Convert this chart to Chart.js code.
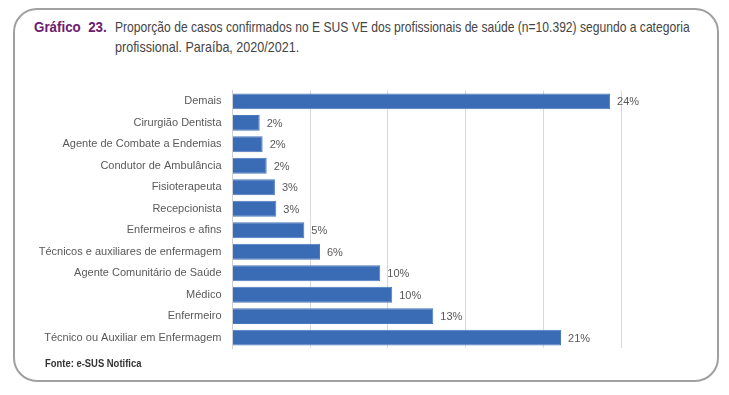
<!DOCTYPE html>
<html><head><meta charset="utf-8">
<script src="https://cdn.jsdelivr.net/npm/chart.js@4"></script>
<style>
html,body{margin:0;padding:0;background:#fff;width:729px;height:395px;overflow:hidden;}
#box{position:absolute;left:13px;top:8px;width:702px;height:370px;border:2px solid #a0a0a0;border-radius:24px;}
.sq{position:absolute;white-space:nowrap;transform-origin:0 50%;font-family:"Liberation Sans",sans-serif;}
#t1{left:34px;top:18px;font-size:15px;font-weight:bold;color:#6b206f;}
#l1{left:115px;top:18px;font-size:15px;color:#454545;}
#l2{left:115px;top:38px;font-size:15px;color:#454545;}
#src{left:45px;top:357px;font-size:11px;font-weight:bold;color:#333;}
#wrap{position:absolute;left:0;top:73px;width:729px;height:293px;}
canvas{display:block;}
</style></head>
<body>
<div id="box"></div>
<div id="t1" class="sq" data-w="73">Gráfico&nbsp; 23.</div>
<div id="l1" class="sq" data-w="575">Proporção de casos confirmados no E SUS VE dos profissionais de saúde (n=10.392) segundo a categoria</div>
<div id="l2" class="sq" data-w="184">profissional. Paraíba, 2020/2021.</div>
<div id="wrap"><canvas id="c" width="729" height="293"></canvas></div>
<div id="src" class="sq" data-w="96">Fonte: e-SUS Notifica</div>
<script>
const categories = ["Demais","Cirurgião Dentista","Agente de Combate a Endemias","Condutor de Ambulância","Fisioterapeuta","Recepcionista","Enfermeiros e afins","Técnicos e auxiliares de enfermagem","Agente Comunitário de Saúde","Médico","Enfermeiro","Técnico ou Auxiliar em Enfermagem"];
const values = [24.3,1.75,1.94,2.2,2.73,2.82,4.62,5.63,9.51,10.28,12.92,21.14];
const valueLabels = ["24%","2%","2%","2%","3%","3%","5%","6%","10%","10%","13%","21%"];

document.querySelectorAll('.sq').forEach(el=>{
  const w = parseFloat(el.dataset.w);
  el.style.transform = 'scaleX(' + (w / el.offsetWidth) + ')';
});

const labelPlugin = {
  id:'barLabels',
  afterDatasetsDraw(chart){
    const ctx = chart.ctx;
    const meta = chart.getDatasetMeta(0);
    ctx.save();
    ctx.font = '11px "Liberation Sans", sans-serif';
    ctx.fillStyle = '#595959';
    ctx.textAlign = 'left';
    ctx.textBaseline = 'middle';
    meta.data.forEach((bar,i)=>{
      ctx.fillText(valueLabels[i], bar.x + 7, bar.y + 1);
    });
    ctx.restore();
  }
};

new Chart(document.getElementById('c'), {
  type:'bar',
  data:{labels:categories, datasets:[{data:values, backgroundColor:'#3a6cb6', borderColor:'#4a78bd', borderWidth:1, barPercentage:0.74, categoryPercentage:1}]},
  options:{
    indexAxis:'y', responsive:false, animation:false,
    layout:{padding:{top:0,bottom:0,right:108,left:0}},
    plugins:{legend:{display:false}, tooltip:{enabled:false}},
    scales:{
      x:{min:0,max:25,ticks:{display:false,stepSize:5},grid:{color:'#d9d9d9',drawTicks:false},border:{display:false}},
      y:{grid:{display:false,drawTicks:false},border:{color:'#d0d0d0'},
         ticks:{padding:11,color:'#595959',font:{family:'"Liberation Sans", sans-serif',size:11}},
         afterFit(s){s.width=232.5;}}
    }
  },
  plugins:[labelPlugin]
});
</script>
</body></html>
